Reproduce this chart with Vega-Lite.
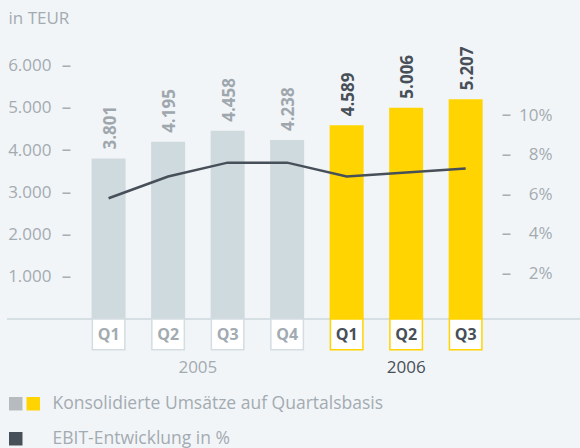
{
  "$schema": "https://vega.github.io/schema/vega-lite/v6.json",
  "width": 573,
  "height": 253.2,
  "autosize": {"type": "none"},
  "padding": {"left": 7, "top": 65.7, "right": 0, "bottom": 129.1},
  "background": "#f2f5f7",
  "config": {
    "view": {"stroke": null},
    "font": "Open Sans",
    "locale": {"number": {"decimal": ",", "thousands": ".", "grouping": [3], "currency": ["", " €"]}},
    "legend": {"labelFont": "Open Sans", "labelFontSize": 17.5, "labelColor": "#a3abb2", "padding": 0, "labelLimit": 500}
  },
  "data": {"values": [
    {"jahr": "2005", "quartal": "Q1", "idx": 1, "umsatz": 3801, "ebit": 5.8},
    {"jahr": "2005", "quartal": "Q2", "idx": 2, "umsatz": 4195, "ebit": 6.9},
    {"jahr": "2005", "quartal": "Q3", "idx": 3, "umsatz": 4458, "ebit": 7.6},
    {"jahr": "2005", "quartal": "Q4", "idx": 4, "umsatz": 4238, "ebit": 7.6},
    {"jahr": "2006", "quartal": "Q1", "idx": 5, "umsatz": 4589, "ebit": 6.9},
    {"jahr": "2006", "quartal": "Q2", "idx": 6, "umsatz": 5006, "ebit": 7.1},
    {"jahr": "2006", "quartal": "Q3", "idx": 7, "umsatz": 5207, "ebit": 7.3}
  ]},
  "layer": [
    {
      "data": {"values": [{}]},
      "mark": {"type": "rule", "color": "#d6dfe3", "strokeWidth": 2},
      "encoding": {
        "y": {"datum": 0, "type": "quantitative", "scale": {"domain": [0, 6000], "nice": false, "zero": false}, "axis": null}
      }
    },
    {
      "mark": {"type": "bar", "orient": "vertical", "width": 34},
      "encoding": {
        "x": {"field": "idx", "type": "quantitative", "scale": {"domain": [-0.623, 8.837], "nice": false, "zero": false}, "axis": null},
        "y": {"field": "umsatz", "type": "quantitative", "scale": {"domain": [0, 6000], "nice": false, "zero": false},
              "axis": {"orient": "left", "offset": -63, "values": [1000, 2000, 3000, 4000, 5000, 6000], "format": ",d", "domain": false, "grid": false, "tickSize": 8, "tickWidth": 1.5, "tickColor": "#a3abb2", "labelPadding": 11, "labelFont": "Open Sans", "labelFontSize": 17, "labelColor": "#a3abb2",
                       "title": "in TEUR", "titleAngle": 0, "titleX": -62, "titleY": -42.4, "titleAlign": "left", "titleBaseline": "alphabetic", "titleFont": "Open Sans", "titleFontSize": 17, "titleFontWeight": "normal", "titleColor": "#a3abb2"}},
        "fill": {"field": "jahr", "type": "nominal", "scale": {"domain": ["2005", "2006"], "range": ["#cfdadf", "#ffd400"]},
                 "legend": {"orient": "none", "legendX": 17.5, "legendY": 329.3, "values": ["2006"], "title": null, "symbolType": "square", "symbolSize": 182, "symbolStrokeWidth": 0, "labelExpr": "''", "labelOffset": 0}}
      }
    },
    {
      "mark": {"type": "bar", "orient": "vertical", "width": 32.5, "fill": "#ffffff", "strokeWidth": 1.5},
      "encoding": {
        "x": {"field": "idx", "type": "quantitative", "scale": {"domain": [-0.623, 8.837], "nice": false, "zero": false}, "axis": null},
        "y": {"datum": 0, "type": "quantitative", "scale": {"domain": [0, 6000], "nice": false, "zero": false}, "axis": null},
        "y2": {"datum": -730},
        "stroke": {"field": "jahr", "type": "nominal", "scale": {"domain": ["2005", "2006"], "range": ["#d3dde2", "#ffd400"]}, "legend": null}
      }
    },
    {
      "mark": {"type": "text", "fontWeight": "bold", "fontSize": 16, "baseline": "alphabetic"},
      "encoding": {
        "x": {"field": "idx", "type": "quantitative", "scale": {"domain": [-0.623, 8.837], "nice": false, "zero": false}, "axis": null},
        "y": {"datum": -500, "type": "quantitative", "scale": {"domain": [0, 6000], "nice": false, "zero": false}, "axis": null},
        "text": {"field": "quartal"},
        "fill": {"condition": {"test": "datum.jahr == '2006'", "value": "#474f58"}, "value": "#a3abb2"}
      }
    },
    {
      "transform": [{"aggregate": [{"op": "mean", "field": "idx", "as": "mitte"}], "groupby": ["jahr"]}],
      "mark": {"type": "text", "fontSize": 17, "baseline": "alphabetic"},
      "encoding": {
        "x": {"field": "mitte", "type": "quantitative", "scale": {"domain": [-0.623, 8.837], "nice": false, "zero": false}, "axis": null},
        "y": {"datum": -1290, "type": "quantitative", "scale": {"domain": [0, 6000], "nice": false, "zero": false}, "axis": null},
        "text": {"field": "jahr"},
        "fill": {"condition": {"test": "datum.jahr == '2006'", "value": "#474f58"}, "value": "#a3abb2"}
      }
    },
    {
      "mark": {"type": "text", "angle": 270, "align": "left", "baseline": "middle", "dx": 9, "dy": 2, "fontWeight": "bold", "fontSize": 17},
      "encoding": {
        "x": {"field": "idx", "type": "quantitative", "scale": {"domain": [-0.623, 8.837], "nice": false, "zero": false}, "axis": null},
        "y": {"field": "umsatz", "type": "quantitative", "scale": {"domain": [0, 6000], "nice": false, "zero": false}, "axis": null},
        "text": {"field": "umsatz", "type": "quantitative", "format": ",d"},
        "fill": {"condition": {"test": "datum.jahr == '2006'", "value": "#474f58"}, "value": "#9fa7ae"}
      }
    },
    {
      "mark": {"type": "line", "strokeWidth": 2.5},
      "encoding": {
        "x": {"field": "idx", "type": "quantitative", "scale": {"domain": [-0.623, 8.837], "nice": false, "zero": false}, "axis": null},
        "y": {"field": "ebit", "type": "quantitative", "scale": {"domain": [-0.3, 12.5], "nice": false, "zero": false},
              "axis": {"orient": "right", "offset": -78, "values": [2, 4, 6, 8, 10], "labelExpr": "datum.value + '%'", "domain": false, "grid": false, "tickSize": 8, "tickWidth": 1.5, "tickColor": "#a3abb2", "labelAlign": "right", "labelPadding": 42, "labelFont": "Open Sans", "labelFontSize": 17, "labelColor": "#a3abb2", "title": null}},
        "color": {"datum": "EBIT-Entwicklung in %", "type": "nominal",
                  "scale": {"domain": ["Konsolidierte Umsätze auf Quartalsbasis", "EBIT-Entwicklung in %"], "range": ["#b5bbbf", "#474f58"]},
                  "legend": {"orient": "none", "legendX": 0, "legendY": 329.3, "title": null, "symbolType": "square", "symbolSize": 42, "symbolStrokeWidth": 7, "labelOffset": 28, "rowPadding": 0}}
      }
    }
  ],
  "resolve": {"scale": {"y": "independent"}}
}
